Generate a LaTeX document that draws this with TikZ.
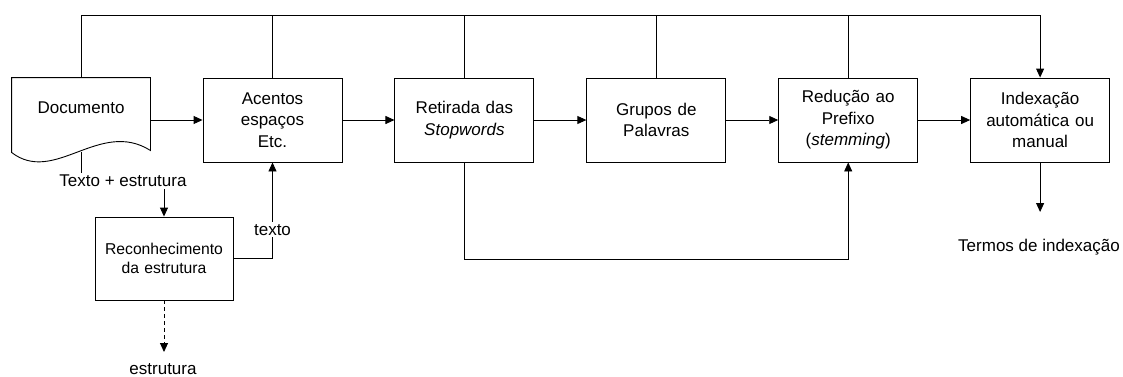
\documentclass[tikz,border=0pt]{standalone}
\usepackage{fontspec}
\setmainfont{Liberation Sans}
\usetikzlibrary{arrows.meta,positioning,calc}

\begin{document}
\begin{tikzpicture}[
    x=1pt, y=-1pt,
    line width=0.9pt,
    node distance=52pt,
    box/.style={rectangle, draw, minimum width=139pt, minimum height=84pt, text width=130pt, text centered, font=\fontsize{17}{21.5}\selectfont},
    lbl/.style={font=\fontsize{17}{21}\selectfont, inner sep=2pt},
    arrow/.style={-{Triangle[length=9pt,width=8pt]}}
  ]
  \useasboundingbox (0,0) rectangle (1123,376);

  % Processing chain
  \node[box] (acentos) at (272.5,120) {Acentos\\espaços\\Etc.};
  \node[box, right=of acentos] (retirada) {Retirada das\\\textit{Stopwords}};
  \node[box, right=of retirada] (grupos) {Grupos de\\Palavras};
  \node[box, right=of grupos] (reducao) {Redução ao\\Prefixo\\(\textit{stemming})};
  \node[box, right=of reducao] (index) {Indexação\\automática ou\\manual};

  % Document input
  \node[lbl, minimum width=138pt, minimum height=60pt] (doc) at (81,108) {Documento};
  \draw (doc.north west) -- ($(doc.south west)+(0,14)$)
    .. controls ($(doc.south west)+(43,47)$) and ($(doc.south west)+(88,-20)$) .. ($(doc.south east)+(0,12)$)
    -- (doc.north east) -- cycle;
  \path ($(doc.south west)+(0,14)$)
    .. controls ($(doc.south west)+(43,47)$) and ($(doc.south west)+(88,-20)$) .. coordinate[pos=0.5] (docbot) ($(doc.south east)+(0,12)$);

  % Structure recognition
  \node[box, minimum width=138pt, minimum height=83pt, font=\fontsize{15.7}{19}\selectfont] (reconh) at (164,258.5) {Reconhecimento\\da estrutura};
  \node[lbl] (txtest) at (123,181) {Texto + estrutura};
  \node[lbl] (estrutura) at (163,369) {estrutura};
  \node[lbl] (termos) at (1039,247) {Termos de indexação};

  \coordinate (bus) at (0,15);
  \coordinate (loop) at (0,259);
  \coordinate (idxout) at (0,212);
  \coordinate (estout) at (0,352);

  % Arrows
  \draw[arrow] (acentos.west -| doc.east) -- (acentos.west);
  \draw[arrow] (acentos) -- (retirada);
  \draw[arrow] (retirada) -- (grupos);
  \draw[arrow] (grupos) -- (reducao);
  \draw[arrow] (reducao) -- (index);

  % Top bus
  \draw[arrow] (doc.north) |- (bus -| index.north) -- (index.north);
  \foreach \n in {acentos,retirada,grupos,reducao}
    \draw (\n.north) -- (\n.north |- bus);

  % Bottom loop
  \draw[arrow] (retirada.south) |- (loop -| reducao.south) -- (reducao.south);

  \draw (doc.south |- docbot) -- (doc.south |- txtest.north);
  \draw[arrow] (reconh.north |- txtest.south) -- (reconh.north);
  \draw[arrow] (reconh.east) -| node[lbl, pos=0.65, fill=white] {texto} (acentos.south);
  \draw[arrow, dash pattern=on 4pt off 3pt] (reconh.south) -- (reconh.south |- estout);
  \draw[arrow] (index.south) -- (index.south |- idxout);
\end{tikzpicture}
\end{document}
